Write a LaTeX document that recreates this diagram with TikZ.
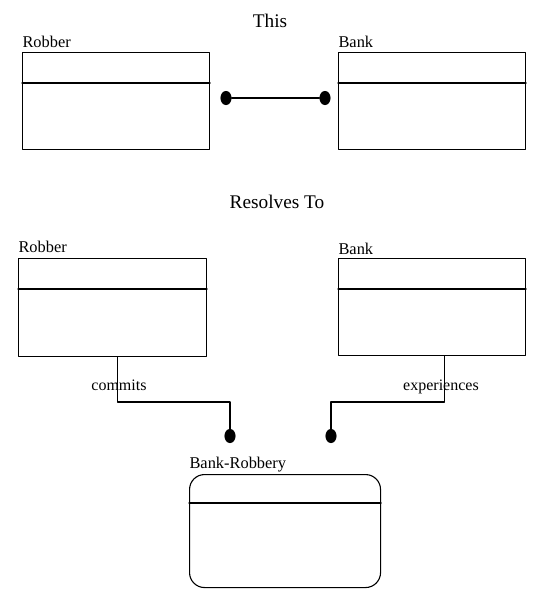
\documentclass[tikz,border=0pt]{standalone}
\usepackage{fontspec}
\setmainfont{Liberation Serif}
\usetikzlibrary{shapes.geometric,positioning}

\tikzset{
  classbox/.style={draw,rectangle,inner sep=0,anchor=north west,minimum width=187pt,minimum height=97pt},
  rclassbox/.style={classbox,rounded corners=15pt},
  boxname/.style={anchor=base west,inner sep=0,font=\fontsize{16.4}{19}\selectfont},
  title/.style={anchor=base,inner sep=0,font=\fontsize{19.3}{22}\selectfont},
  rolename/.style={anchor=base,inner sep=0,font=\fontsize{16}{19}\selectfont},
  blob/.style={draw,fill,ellipse,inner sep=0,minimum width=10pt,minimum height=13pt},
}

\begin{document}
\begin{tikzpicture}[line cap=round,line join=round,x=1pt,y=-1pt,line width=1.1pt]
			\useasboundingbox (0,0) rectangle (545,606);
			% This
			\node[title] (this) at (270,27) {This};
			\node[classbox] (rob1) at (22,52) {};
			\node[classbox] (bank1) at (338,52) {};
			\node[boxname] at ([yshift=5pt]rob1.north west) {Robber};
			\node[boxname] at ([yshift=5pt]bank1.north west) {Bank};
			\draw ([yshift=-31pt]rob1.north west)--([yshift=-31pt]rob1.north east);
			\draw ([yshift=-31pt]bank1.north west)--([yshift=-31pt]bank1.north east);
			\node[blob] (d1) at (226,98) {};
			\node[blob] (d2) at (325,98) {};
			\draw (d1)--(d2);
			% Resolves To
			\node[title] (res) at (277,208) {Resolves To};
			\node[classbox,minimum width=188pt,minimum height=98pt] (rob2) at (18,258) {};
			\node[classbox] (bank2) at (338,258) {};
			\node[boxname] at ([yshift=6pt]rob2.north west) {Robber};
			\node[boxname] at ([yshift=4pt]bank2.north west) {Bank};
			\draw ([yshift=-31pt]rob2.north west)--([yshift=-31pt]rob2.north east);
			\draw ([yshift=-31pt]bank2.north west)--([yshift=-31pt]bank2.north east);
			% Bank-Robbery
			\node[rclassbox,minimum width=191pt,minimum height=113pt] (br) at (189,474) {};
			\node[boxname] at ([yshift=6pt]br.north west) {Bank-Robbery};
			\draw ([yshift=-29pt]br.north west)--([yshift=-29pt]br.north east);
			\node[blob] (d3) at (230,436) {};
			\node[blob] (d4) at (331,436) {};
			\coordinate (c3) at (230,402);
			\coordinate (c4) at (331,402);
			\draw ([xshift=5pt]rob2.south) |- (c3)--(d3);
			\draw ([xshift=12pt]bank2.south) |- (c4)--(d4);
			\node[rolename] at (119,390) {commits};
			\node[rolename] at (441,390) {experiences};
	\end{tikzpicture}
\end{document}
